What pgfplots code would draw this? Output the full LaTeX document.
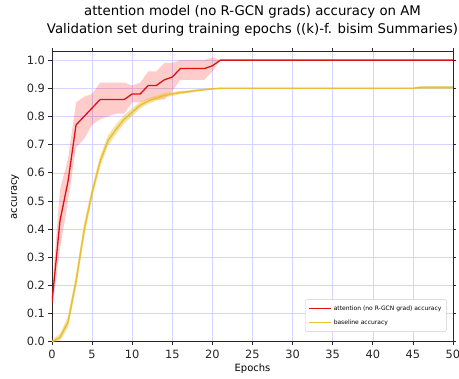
\documentclass[border=0pt]{standalone}
\usepackage{pgfplots}
\pgfplotsset{compat=1.18}
\usepgfplotslibrary{fillbetween}
\usepackage{fontspec}
\setmainfont{DejaVu Sans}
\definecolor{redline}{RGB}{220,18,18}
\definecolor{yelline}{RGB}{232,192,56}
\definecolor{gridc}{RGB}{212,212,255}
\definecolor{spine}{RGB}{40,40,40}

\pgfplotstableread{
e m lo hi
0 0.14 0.11 0.18
1 0.43 0.33 0.54
2 0.57 0.50 0.65
3 0.77 0.69 0.85
4 0.80 0.72 0.87
5 0.83 0.77 0.88
6 0.86 0.79 0.92
7 0.86 0.80 0.92
8 0.86 0.81 0.92
9 0.86 0.81 0.92
10 0.88 0.85 0.91
11 0.88 0.85 0.92
12 0.91 0.86 0.96
13 0.91 0.86 0.96
14 0.93 0.86 0.99
15 0.94 0.89 0.99
16 0.97 0.93 1.00
17 0.97 0.93 1.00
18 0.97 0.93 1.00
19 0.97 0.93 1.00
20 0.98 0.96 1.01
21 1.00 1.00 1.00
50 1.00 1.00 1.00
}\attn

\pgfplotstableread{
e m lo hi
0 0.000 0.000 0.006
1 0.015 0.003 0.028
2 0.070 0.050 0.090
3 0.215 0.190 0.240
4 0.395 0.370 0.420
5 0.530 0.510 0.550
6 0.640 0.620 0.660
7 0.715 0.697 0.733
8 0.755 0.738 0.772
9 0.790 0.775 0.805
10 0.815 0.801 0.829
11 0.840 0.828 0.852
12 0.855 0.845 0.865
13 0.865 0.856 0.874
14 0.875 0.867 0.883
15 0.880 0.873 0.887
16 0.885 0.879 0.891
17 0.888 0.883 0.893
18 0.892 0.888 0.896
19 0.895 0.892 0.898
20 0.898 0.896 0.900
21 0.900 0.898 0.902
45 0.900 0.898 0.902
46 0.903 0.898 0.908
50 0.903 0.898 0.908
}\base

\begin{document}
\begin{tikzpicture}
\begin{axis}[
  scale only axis,
  width=401pt, height=290pt,
  xmin=0, xmax=50, ymin=0, ymax=1.03,
  xtick={0,5,...,50},
  ytick={0,0.1,...,1.0},
  yticklabel style={/pgf/number format/.cd,fixed,fixed zerofill,precision=1},
  /pgf/number format/assume math mode=true,
  ticklabel style={font=\fontsize{11.4}{13}\selectfont, text=black!85},
  xticklabel style={yshift=-1pt},
  tick align=outside,
  major tick length=3.5pt,
  tick style={spine, line width=0.6pt},
  axis line style={spine, line width=0.8pt},
  grid=major,
  major grid style={gridc, line width=0.5pt},
  xlabel={Epochs}, ylabel={accuracy},
  label style={font=\fontsize{11.4}{13}\selectfont, text=black!85},
  every axis x label/.style={at={(axis description cs:0.5,-0.0945)}, anchor=center},
  every axis y label/.style={at={(axis description cs:-0.092,0.5)}, rotate=90, anchor=center},
  title={attention model (no R-GCN grads) accuracy on AM\\Validation set during training epochs ((k)-f. bisim Summaries)},
  title style={at={(axis description cs:0.5,1)}, anchor=center, yshift=25pt, align=center,
    font=\fontsize{13.3}{18.3}\selectfont},
  legend style={at={(axis description cs:0.984,0.146)}, anchor=north east,
    font=\fontsize{6}{7}\selectfont, draw=black!20, rounded corners=2pt,
    fill=white, row sep=4pt, inner xsep=3pt, inner ysep=4pt},
  legend cell align=left,
  legend image code/.code={\draw[#1] (0pt,0pt) -- (22pt,0pt);},
]
\addplot[name path=au, draw=none, forget plot] table[x=e,y=hi]{\attn};
\addplot[name path=al, draw=none, forget plot] table[x=e,y=lo]{\attn};
\addplot[fill=red, opacity=0.2, forget plot] fill between[of=au and al];
\addplot[name path=bu, draw=none, forget plot] table[x=e,y=hi]{\base};
\addplot[name path=bl, draw=none, forget plot] table[x=e,y=lo]{\base};
\addplot[fill=yelline, opacity=0.45, forget plot] fill between[of=bu and bl];
\addplot[redline, line width=1.3pt] table[x=e,y=m]{\attn};
\addlegendentry{attention (no R-GCN grad) accuracy}
\addplot[yelline, line width=1.5pt] table[x=e,y=m]{\base};
\addlegendentry{baseline accuracy}
\end{axis}
\pgfresetboundingbox
\path[use as bounding box] (-52pt,-37.3pt) rectangle (407pt,341.7pt);
\end{tikzpicture}
\end{document}
